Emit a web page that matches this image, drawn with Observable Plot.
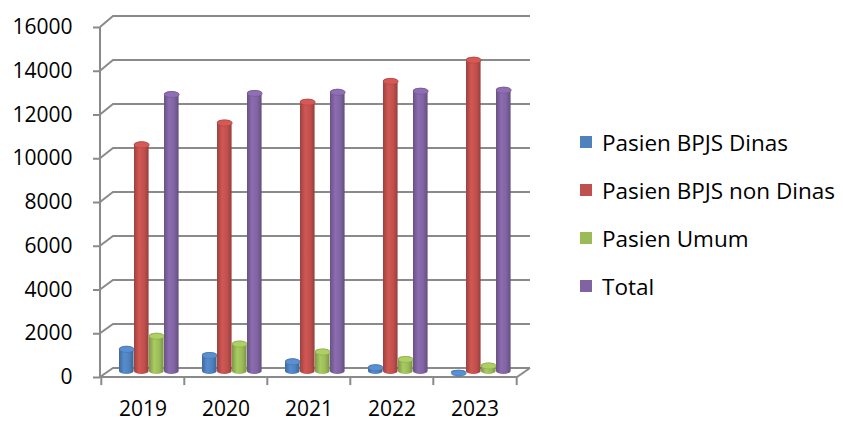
<!DOCTYPE html>
<html>
<head>
<meta charset="utf-8">
<script src="https://cdn.jsdelivr.net/npm/d3@7"></script>
<script src="https://cdn.jsdelivr.net/npm/@observablehq/plot@0.6"></script>
<style>
  html, body { margin: 0; padding: 0; background: #fff; }
  #wrap { position: relative; width: 843px; height: 422px; font-family: "Open Sans", sans-serif; }
  #legend { position: absolute; left: 580px; top: 0; }
  .item { position: absolute; left: 0; white-space: nowrap; font-size: 22.5px; color: #000; display: flex; align-items: center; }
  .sw { width: 12px; height: 12px; margin-right: 10px; }
</style>
</head>
<body>
<div id="wrap"><div id="legend"></div></div>
<script>
const years = ["2019", "2020", "2021", "2022", "2023"];
const seriesNames = ["Pasien BPJS Dinas", "Pasien BPJS non Dinas", "Pasien Umum", "Total"];
const bpjsDinas = [1150, 870, 580, 310, 60];
const bpjsNonDinas = [10500, 11500, 12450, 13400, 14370];
const umum = [1750, 1390, 1030, 690, 390];
const total = [12800, 12850, 12900, 12950, 13000];
const yTicks = [0, 2000, 4000, 6000, 8000, 10000, 12000, 14000, 16000];
const colors = ["#4F81BD", "#C0504D", "#9BBB59", "#8064A2"];

const seriesValues = [bpjsDinas, bpjsNonDinas, umum, total];
const data = [];
seriesNames.forEach((s, i) => years.forEach((y, j) => data.push({series: s, si: i, year: y, value: seriesValues[i][j]})));

const W = 843, H = 422, ML = 100, MR = 326, MT = 27, MB = 45;
const bw = (W - ML - MR) / years.length;
const barW = 15, barStart = 18;
const GRID = "#8a8a8a";

function frame3d(index, scales, values, dimensions) {
  const L = dimensions.marginLeft, R = dimensions.width - dimensions.marginRight;
  const g = d3.create("svg:g").attr("fill", "none").attr("stroke", GRID).attr("stroke-width", 2);
  const ymax = yTicks[yTicks.length - 1];
  yTicks.forEach(t => {
    const y = scales.y(t);
    const dy = -(9 + 2 * t / ymax);
    g.append("path").attr("d", `M${L},${y}L${L + 13},${y + dy}L${R + 13},${y + dy}`);
  });
  const y0 = scales.y(0);
  g.append("path").attr("d", `M${L},${scales.y(ymax)}V${y0}H${R}l13,-9`);
  return g.node();
}

const ellipse = {
  draw(ctx) {
    const rx = barW / 2, ry = 3, k = 0.5523;
    ctx.moveTo(-rx, 0);
    ctx.bezierCurveTo(-rx, -ry * k, -rx * k, -ry, 0, -ry);
    ctx.bezierCurveTo(rx * k, -ry, rx, -ry * k, rx, 0);
    ctx.bezierCurveTo(rx, ry * k, rx * k, ry, 0, ry);
    ctx.bezierCurveTo(-rx * k, ry, -rx, ry * k, -rx, 0);
    ctx.closePath();
  }
};

const marks = [frame3d];
seriesNames.forEach((s, i) => {
  const sub = data.filter(d => d.si === i);
  const left = barStart + barW * i;
  marks.push(Plot.barY(sub, {
    x: "year", y: "value", fill: `url(#grad${i})`,
    insetLeft: left, insetRight: bw - left - barW, insetBottom: -3,
    dy: -6, rx: barW / 2, ry: 3
  }));
  marks.push(Plot.dot(sub, {
    x: "year", y: "value", symbol: ellipse, r: 3,
    fill: d3.color(colors[i]).brighter(0.3).formatHex(), stroke: d3.color(colors[i]).darker(0.5).formatHex(), strokeWidth: 0.5,
    dx: left + barW / 2 - bw / 2, dy: -3
  }));
});
marks.push(Plot.axisY(yTicks, {tickSize: 7, tickPadding: 21, fontSize: 21, stroke: GRID, strokeWidth: 2, tickFormat: d => String(d)}));
marks.push(Plot.axisX({tickSize: 0, tickPadding: 24, fontSize: 21}));
marks.push(Plot.ruleX(years, {x: d => d, dx: -bw / 2, y1: 0, y2: -370, stroke: GRID, strokeWidth: 2}));
marks.push(Plot.ruleX([years[years.length - 1]], {x: d => d, dx: bw / 2, y1: 0, y2: -370, stroke: GRID, strokeWidth: 2}));

const chart = Plot.plot({
  width: W, height: H,
  marginLeft: ML, marginRight: MR, marginTop: MT, marginBottom: MB,
  style: {fontFamily: "'Open Sans', sans-serif", color: "#000", background: "#fff"},
  x: {type: "band", domain: years, padding: 0, label: null},
  y: {domain: [0, 16000], label: null},
  marks
});

const defs = d3.select(chart).insert("defs", ":first-child");
colors.forEach((c, i) => {
  const base = d3.color(c);
  const grad = defs.append("linearGradient").attr("id", `grad${i}`).attr("x1", 0).attr("x2", 1).attr("y1", 0).attr("y2", 0);
  grad.append("stop").attr("offset", "0%").attr("stop-color", base.darker(0.6).formatHex());
  grad.append("stop").attr("offset", "35%").attr("stop-color", base.brighter(0.25).formatHex());
  grad.append("stop").attr("offset", "70%").attr("stop-color", base.formatHex());
  grad.append("stop").attr("offset", "100%").attr("stop-color", base.darker(0.7).formatHex());
});

document.getElementById("wrap").prepend(chart);

const legend = document.getElementById("legend");
const rowY = [142, 190, 238, 286];
seriesNames.forEach((s, i) => {
  const it = document.createElement("div");
  it.className = "item";
  it.style.top = (rowY[i] - 15) + "px";
  it.style.height = "30px";
  it.innerHTML = `<span class="sw" style="background:${colors[i]}"></span><span>${s}</span>`;
  legend.appendChild(it);
});
</script>
</body>
</html>
